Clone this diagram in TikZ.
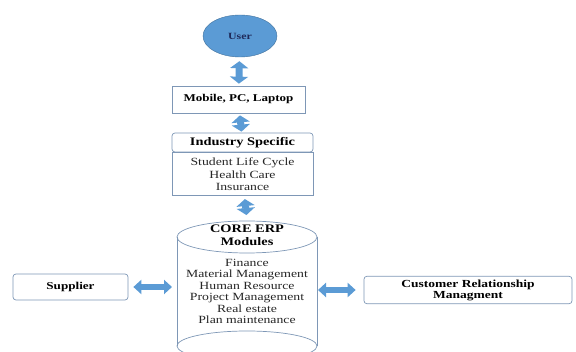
\documentclass[tikz,border=0pt]{standalone}
\usepackage{fontspec}
\setmainfont{Liberation Serif}[FakeStretch=1.25]
\usetikzlibrary{shapes.geometric,arrows.meta,positioning,calc}
\definecolor{erpblue}{HTML}{5B9BD5}
\definecolor{erpedge}{HTML}{41719C}
\definecolor{boxedge}{HTML}{7E97B6}
\definecolor{usertext}{HTML}{1F2A5A}

\tikzset{
  hdbox/.style={draw=boxedge, line width=0.7pt, rounded corners=3pt, font=\bfseries\fontsize{10.5}{11.5}\selectfont, align=center},
  listtext/.style={font=\fontsize{11}{11.5}\selectfont, align=center, text=black!85},
  blockarr/.style={erpblue, line width=7pt,
    {Triangle[width=18pt,length=7pt]}-{Triangle[width=18pt,length=7pt]}},
  sidearr/.style={erpblue, line width=6pt,
    {Triangle[width=14pt,length=8pt]}-{Triangle[width=14pt,length=8pt]}},
  cylline/.style={draw=boxedge, line width=0.7pt}
}

\begin{document}
\begin{tikzpicture}[x=1pt,y=-1pt]
\useasboundingbox (0,0) rectangle (576,352);

% column in the middle
\node[ellipse, fill=erpblue, draw=erpedge, minimum width=74pt, minimum height=42pt,
  font=\bfseries\fontsize{9.5}{10}\selectfont, text=usertext] (user) at (240,36) {User};
\node[hdbox, rounded corners=0pt, minimum width=133pt, minimum height=27pt,
  font=\bfseries\fontsize{10.4}{11}\selectfont] (mobile) at (238.5,99.5) {Mobile, PC, Laptop};
\node[hdbox, minimum width=141pt, minimum height=19pt,
  font=\bfseries\fontsize{11.5}{12}\selectfont] (indhead) at (242.5,142.5) {Industry Specific};
\node[listtext, draw=boxedge, line width=0.7pt, minimum width=141pt, minimum height=43pt, anchor=north,
  font=\fontsize{11}{12.3}\selectfont] (indbody) at (indhead.south)
  {Student Life Cycle\\Health Care\\Insurance};

% cylinder
\coordinate (cyltop) at (247,221);
\coordinate (cylleft) at (177,290);
\coordinate (cylright) at (317,290);
\draw[cylline] (247,237) ellipse [x radius=70pt, y radius=16pt];
\draw[cylline] (247,346) ellipse [x radius=70pt, y radius=15pt];
\draw[cylline] (177,237) -- (177,346);
\draw[cylline] (317,237) -- (317,346);
\node[font=\bfseries\fontsize{11.5}{12.5}\selectfont, align=center] (core) at (247,235.5) {CORE ERP\\Modules};
\node[listtext] (modules) at (247,291.5)
  {Finance\\Material Management\\Human Resource\\Project Management\\Real estate\\Plan maintenance};

% sides
\node[hdbox, minimum width=115pt, minimum height=26pt] (supplier) at (70.5,287) {Supplier};
\node[hdbox, minimum width=208pt, minimum height=26pt,
  font=\bfseries\fontsize{10.8}{11}\selectfont] (crm) at (468,290) {Customer Relationship\\Managment};

% arrows
\draw[blockarr, shorten <=4pt, shorten >=2pt] (user) -- (mobile);
\draw[blockarr, shorten <=2pt, shorten >=1pt] (mobile) -- (indhead);
\draw[blockarr, shorten <=3pt, shorten >=6pt] (indbody) -- (cyltop);
\draw[sidearr, shorten <=5pt, shorten >=5pt] (supplier.east) -- (supplier.east -| cylleft);
\draw[sidearr, shorten <=1pt, shorten >=8pt] (crm.west -| cylright) -- (crm.west);
\end{tikzpicture}
\end{document}
